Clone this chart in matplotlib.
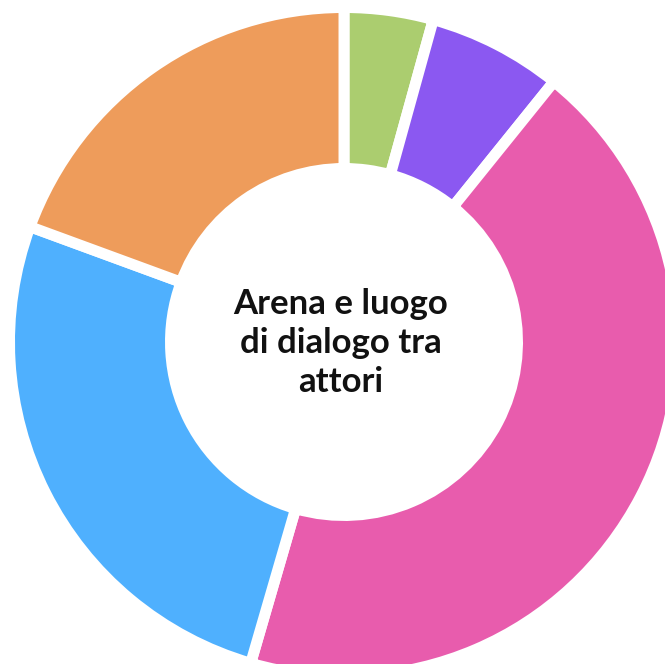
import matplotlib.pyplot as plt

# slices, clockwise from 12 o'clock
labels = ["Verde", "Viola", "Rosa", "Blu", "Arancio"]
values = [4.3, 6.5, 43.7, 26.1, 19.4]
colors = ["#abcd6f", "#8b58f1", "#e85cad", "#4fb0fe", "#ee9c5b"]
center_text = "Arena e luogo\ndi dialogo tra\nattori"

fig = plt.figure(figsize=(6.65, 6.64), dpi=100)
ax = fig.add_axes([0, 0, 1, 1])

# work in pixel units so the ring sits where it does in the reference
ax.pie(values, colors=colors, startangle=90, counterclock=False,
       radius=334.5, center=(344, 322),
       wedgeprops=dict(width=161, edgecolor="white", linewidth=7.9))

ax.text(341, 321, center_text, ha="center", va="center",
        fontsize=25, fontweight="bold", family=["Lato", "DejaVu Sans"],
        linespacing=1.28, color="#111111")

ax.set_xlim(0, 665)
ax.set_ylim(0, 664)
ax.set_aspect("equal")
ax.axis("off")

fig.savefig("out.png", dpi=100)
